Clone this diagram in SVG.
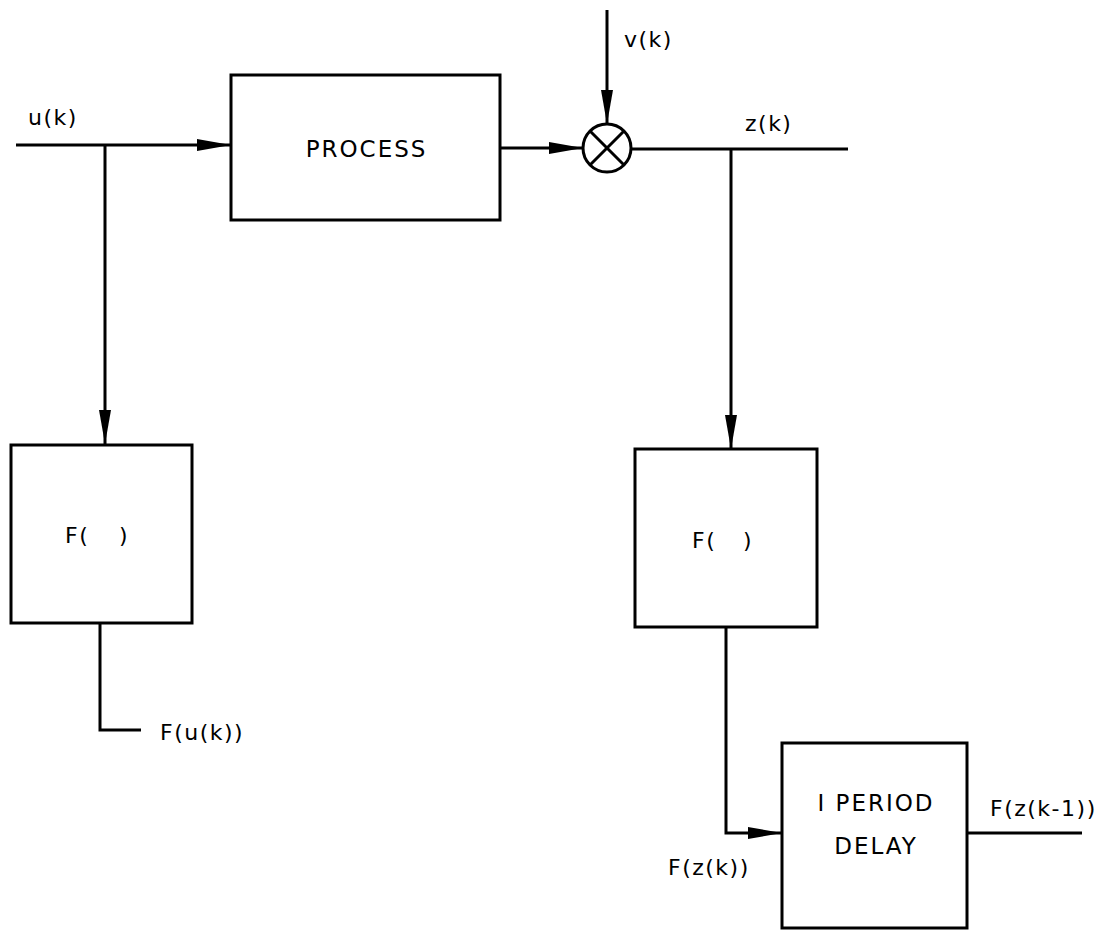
<svg xmlns="http://www.w3.org/2000/svg" width="1112" height="936" viewBox="0 0 1112 936">
<defs>
<style>
.box{fill:none;stroke:#000;stroke-width:3}
.ln{fill:none;stroke:#000;stroke-width:3}
.t{font-family:"DejaVu Sans","Liberation Sans",sans-serif;font-size:22px;fill:#000;letter-spacing:1.5px}
.tb{font-family:"DejaVu Sans","Liberation Sans",sans-serif;font-size:23px;fill:#000;letter-spacing:2px}
</style>
<marker id="arr" markerUnits="userSpaceOnUse" markerWidth="36" markerHeight="14" refX="34" refY="7" orient="auto">
<path d="M0,1 L34,7 L0,13 Z" fill="#000"/>
</marker>
</defs>
<rect width="1112" height="936" fill="#fff"/>
<g id="connectors">
<line class="ln" x1="16" y1="145" x2="231" y2="145" marker-end="url(#arr)"/>
<line class="ln" x1="105" y1="145" x2="105" y2="444" marker-end="url(#arr)"/>
<line class="ln" x1="500" y1="148" x2="583" y2="148" marker-end="url(#arr)"/>
<line class="ln" x1="607" y1="10" x2="607" y2="124" marker-end="url(#arr)"/>
<line class="ln" x1="631" y1="149" x2="848" y2="149"/>
<line class="ln" x1="731" y1="149" x2="731" y2="449" marker-end="url(#arr)"/>
<polyline class="ln" points="100,623 100,730 141,730"/>
<polyline class="ln" points="726,627 726,833 782,833" marker-end="url(#arr)"/>
<line class="ln" x1="967" y1="833" x2="1082" y2="833"/>
</g>
<g id="process">
<rect class="box" x="231" y="75" width="269" height="145"/>
<text class="tb" x="366.5" y="157" text-anchor="middle">PROCESS</text>
</g>
<g id="multiplier">
<circle cx="607" cy="148" r="24" fill="#fff" stroke="#000" stroke-width="3"/>
<line class="ln" x1="590" y1="131" x2="624" y2="165"/>
<line class="ln" x1="624" y1="131" x2="590" y2="165"/>
</g>
<g id="f-left">
<rect class="box" x="11" y="445" width="181" height="178"/>
<text class="t" x="65" y="543">F(</text>
<text class="t" x="119" y="543">)</text>
</g>
<g id="f-right">
<rect class="box" x="635" y="449" width="182" height="178"/>
<text class="t" x="692" y="548">F(</text>
<text class="t" x="743" y="548">)</text>
</g>
<g id="delay">
<rect class="box" x="782" y="743" width="185" height="185"/>
<text class="tb" x="876" y="811" text-anchor="middle">I PERIOD</text>
<text class="tb" x="876" y="854" text-anchor="middle">DELAY</text>
</g>
<g id="labels">
<text class="t" x="28" y="125">u(k)</text>
<text class="t" x="624" y="47">v(k)</text>
<text class="t" x="745" y="131">z(k)</text>
<text class="t" x="160" y="740">F(u(k))</text>
<text class="t" x="668" y="875">F(z(k))</text>
<text class="t" x="990" y="816">F(z(k-1))</text>
</g>
</svg>
